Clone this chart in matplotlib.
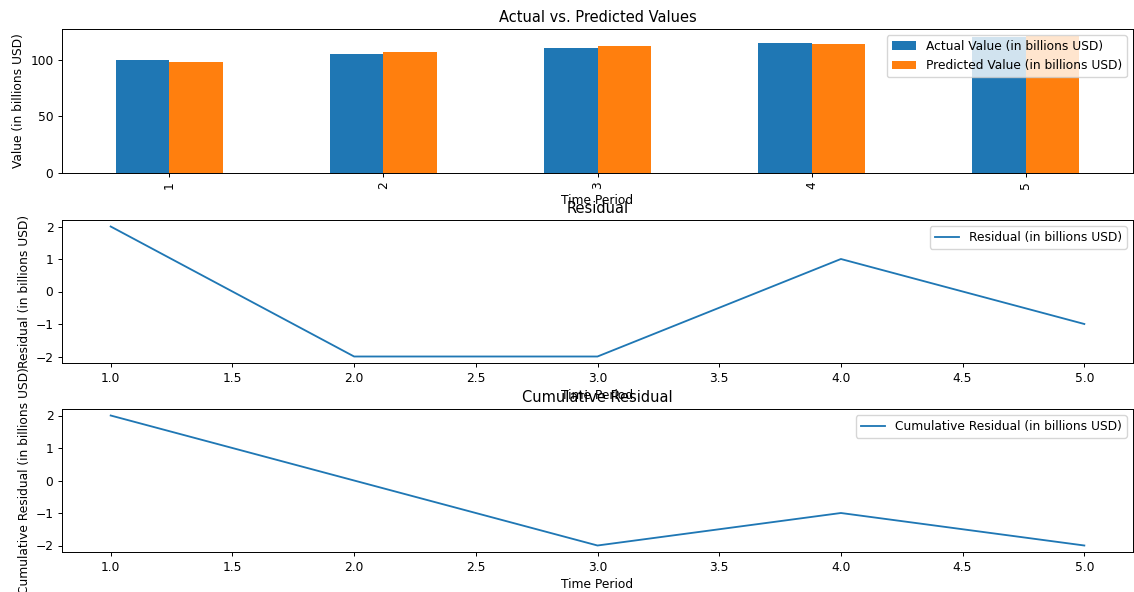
import matplotlib
matplotlib.use("Agg")
import matplotlib.pyplot as plt
import numpy as np

# data
periods = [1, 2, 3, 4, 5]
actual = [100, 105, 110, 115, 120]
predicted = [98, 107, 112, 114, 121]
residual = [2, -2, -2, 1, -1]
cum_residual = [2, 0, -2, -1, -2]

#  the reference looks like a default figure shrunk to ~88 %
s = 0.88
plt.rcParams.update({
    "font.size": 10 * s,
    "lines.linewidth": 1.5 * s,
    "axes.linewidth": 0.8 * s,
    "xtick.major.size": 3.5 * s,
    "ytick.major.size": 3.5 * s,
    "xtick.major.width": 0.8 * s,
    "ytick.major.width": 0.8 * s,
    "xtick.major.pad": 3.5 * s,
    "ytick.major.pad": 3.5 * s,
    "axes.titlepad": 6 * s,
    "axes.labelpad": 4 * s,
})

W, H = 1134, 592
fig = plt.figure(figsize=(W / 100, H / 100), dpi=100)


def box(x0, y0, x1, y1):
    # pixel box (top-left origin) -> figure fraction
    return [x0 / W, 1 - y1 / H, (x1 - x0) / W, (y1 - y0) / H]


#  Bar chart: actual vs predicted
ax1 = fig.add_axes(box(62, 29, 1133, 173))
pos = np.arange(len(periods))
ax1.bar(pos - 0.125, actual, 0.25, color="#1f77b4", label="Actual Value (in billions USD)")
ax1.bar(pos + 0.125, predicted, 0.25, color="#ff7f0e", label="Predicted Value (in billions USD)")
ax1.set_xlim(-0.5, len(periods) - 0.5)
ax1.set_xticks(pos)
ax1.set_xticklabels([str(p) for p in periods], rotation=90)
ax1.set_xlabel("Time Period")
ax1.set_ylabel("Value (in billions USD)")
ax1.set_title("Actual vs. Predicted Values")
ax1.legend(loc="upper right")

#  Residual line
ax2 = fig.add_axes(box(62, 220, 1133, 363))
ax2.plot(periods, residual, color="#1f77b4", label="Residual (in billions USD)")
ax2.set_xlabel("Time Period")
ax2.set_ylabel("Residual (in billions USD)")
ax2.set_title("Residual")
ax2.legend(loc="upper right")

#  Cumulative residual line
ax3 = fig.add_axes(box(62, 409, 1133, 552))
ax3.plot(periods, cum_residual, color="#1f77b4", label="Cumulative Residual (in billions USD)")
ax3.set_xlabel("Time Period")
ax3.set_ylabel("Cumulative Residual (in billions USD)")
ax3.set_title("Cumulative Residual")
ax3.legend(loc="upper right")

fig.savefig("out.png", dpi=100)
